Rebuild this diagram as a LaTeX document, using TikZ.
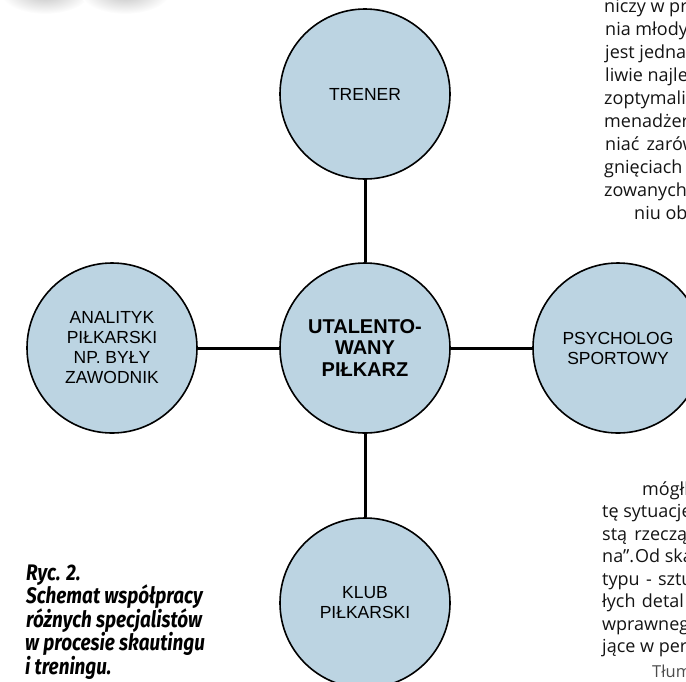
\documentclass[tikz,border=0pt]{standalone}
\usepackage{fontspec}
\setmainfont{Liberation Sans}
\newfontfamily\bodyfont{Open Sans}
\newfontfamily\capfont[FakeStretch=0.84]{Fira Sans}
\definecolor{bubblefill}{RGB}{188,212,226}
\begin{document}
\begin{tikzpicture}[x=1pt,y=-1pt,
  bubble/.style={circle, draw=black, line width=1.6pt, fill=bubblefill, minimum size=170pt, inner sep=0pt, align=center, font=\fontsize{17.5}{20}\selectfont},
  hub/.style={bubble, font=\fontsize{20}{21.7}\selectfont\bfseries},
  link/.style={line width=3pt},
  bodytext/.style={anchor=base west, inner sep=0pt, font=\bodyfont\fontsize{18}{22}\selectfont, text=black!92},
  captext/.style={anchor=base west, inner sep=0pt, font=\capfont\bfseries\itshape\fontsize{22.5}{23.5}\selectfont}]
\useasboundingbox (0,0) rectangle (686,681);
% smudge at top left
\shade[inner color=black!25, outer color=white] (45,-8) ellipse (45pt and 22pt);
\shade[inner color=black!25, outer color=white] (125,-8) ellipse (45pt and 22pt);
% circles
\node[hub] (hub) at (365,348) {UTALENTO-\\WANY\\PIŁKARZ};
\node[bubble] (trener) at (365,94) {TRENER};
\node[bubble] (analityk) at (112,348) {ANALITYK\\PIŁKARSKI\\NP. BYŁY\\ZAWODNIK};
\node[bubble] (psych) at (618,348) {PSYCHOLOG\\SPORTOWY};
\node[bubble] (klub) at (365,603) {KLUB\\PIŁKARSKI};
\draw[link] (hub) -- (trener);
\draw[link] (hub) -- (analityk);
\draw[link] (hub) -- (psych);
\draw[link] (hub) -- (klub);
% body text, top right
\node[bodytext] (t1) at (604,12) {niczy w pr};
\node[bodytext] (t2) at (605,35) {nia młody};
\node[bodytext] (t3) at (605,58) {jest jednak};
\node[bodytext] (t4) at (605,81) {liwie najle};
\node[bodytext] (t5) at (604,104) {zoptymaliz};
\node[bodytext] (t6) at (604,127) {menadżer};
\node[bodytext] (t7) at (605,150) {niać\hspace{0.4em}zarów};
\node[bodytext] (t8) at (604,173) {gnięciach};
\node[bodytext] (t9) at (604,196) {zowanych};
\node[bodytext] (t10) at (634,219) {niu ob};
% body text, bottom right
\node[bodytext] (b1) at (642,495) {mógłb};
\node[bodytext] (b2) at (602,517.5) {tę sytuacje};
\node[bodytext] (b3) at (602,540) {stą\hspace{0.4em}rzeczą};
\node[bodytext] (b4) at (602,562.5) {na”.\hspace{0.05em}Od ska};
\node[bodytext] (b5) at (602,585) {typu\hspace{0.35em}-\hspace{0.35em}sztu};
\node[bodytext] (b6) at (602,607.5) {łych\hspace{0.35em}detal};
\node[bodytext] (b7) at (602,630) {wprawneg};
\node[bodytext] (b8) at (602,652.5) {jące w per};
\node[bodytext, font=\bodyfont\fontsize{16.5}{18}\selectfont, text=black!70] (b9) at (652,677) {Tłum};
% caption
\node[captext] (c1) at (26,580) {Ryc. 2.};
\node[captext] (c2) at (26,603.5) {Schemat współpracy};
\node[captext] (c3) at (26,627) {różnych specjalistów};
\node[captext] (c4) at (25,650.5) {w procesie skautingu};
\node[captext] (c5) at (25,674) {i treningu.};
\end{tikzpicture}
\end{document}
